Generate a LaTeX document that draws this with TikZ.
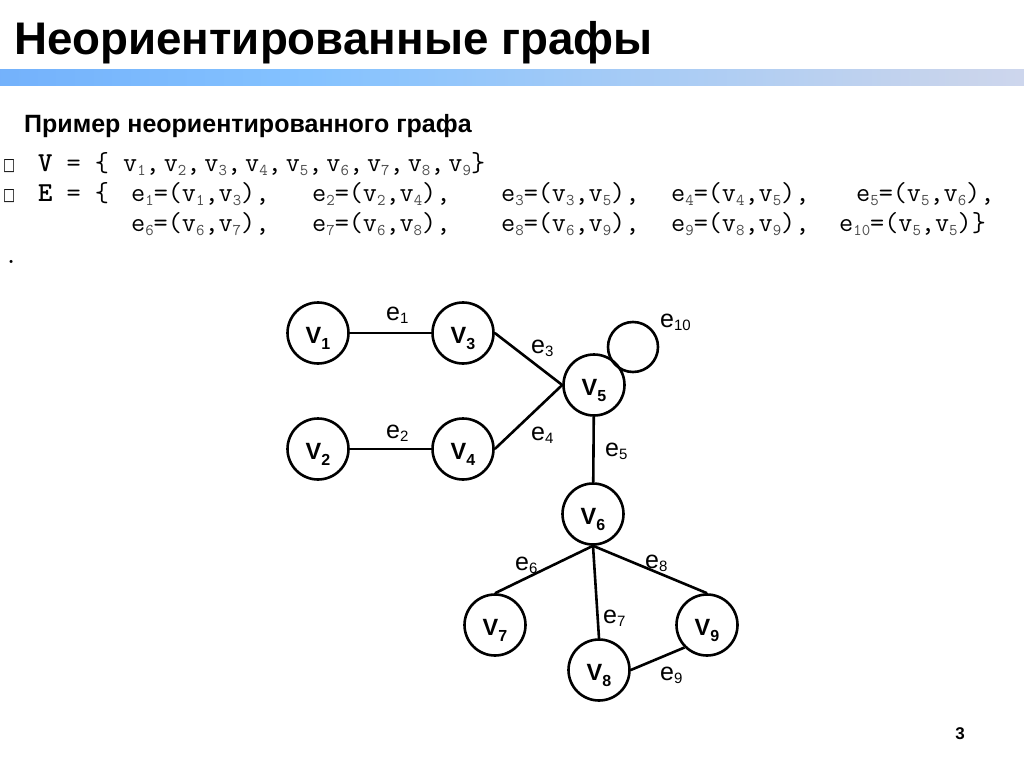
\documentclass[tikz,border=0pt]{standalone}
\usepackage{fontspec}
\setmainfont{Liberation Sans}
\newfontfamily\symfont{DejaVu Sans}
\definecolor{barA}{RGB}{88,150,245}
\definecolor{barB}{RGB}{132,194,255}
\definecolor{barC}{RGB}{200,212,236}
\definecolor{barD}{RGB}{250,232,248}
\pgfdeclarehorizontalshading{barshade}{100bp}{color(0bp)=(barA); color(40bp)=(barB); color(72bp)=(barC); color(100bp)=(barD)}
\newcommand{\msub}[1]{\raisebox{-4pt}{\fontsize{16.4}{16}\selectfont\color{black!70}#1}}
\newcommand{\vv}[1]{v\msub{#1}}
\newcommand{\vlab}[1]{\fontsize{23.5}{23.5}\selectfont\bfseries V\raisebox{-6pt}{\fontsize{16}{16}\selectfont #1}}
\newcommand{\elab}[1]{\fontsize{25}{25}\selectfont e\raisebox{-3pt}{\fontsize{15}{15}\selectfont #1}}
\begin{document}
\begin{tikzpicture}[x=1pt,y=-1pt,
  vert/.style={circle, draw, fill=white, line width=2.6pt, minimum size=61pt, inner sep=0pt, text height=20pt, text depth=0pt},
  edge/.style={line width=2.6pt},
  elabel/.style={anchor=base west, inner sep=0pt},
  mono/.style={anchor=base west, inner sep=0pt, font=\ttfamily\fontsize{27.4}{30}\selectfont}]
\useasboundingbox[fill=white] (0,0) rectangle (1024,767);
% title and bar
\node[anchor=base west, inner sep=0pt, font=\bfseries\fontsize{45.7}{54}\selectfont] (title) at (14,55) {Неориентированные графы};
\shade[shading=barshade] (0,70) rectangle (1024,86);
\node[anchor=base west, inner sep=0pt, font=\bfseries\fontsize{25}{30}\selectfont] (sub) at (24,133) {Пример неориентированного графа};
% sets
\node[anchor=base west, inner sep=0pt, font=\symfont\fontsize{17}{20}\selectfont] (b1) at (3,171) {\scalebox{0.75}[1]{□}};
\node[anchor=base west, inner sep=0pt, font=\symfont\fontsize{17}{20}\selectfont] (b2) at (3,201) {\scalebox{0.75}[1]{□}};
\node[mono] (l1) at (38,172) {\textbf{V} = \{ \vv{1},\kern4pt\vv{2},\kern4pt\vv{3},\kern4pt\vv{4},\kern4pt\vv{5},\kern4pt\vv{6},\kern4pt\vv{7},\kern4pt\vv{8},\kern4pt\vv{9}\}};
\node[mono] (l2) at (38,202) {\textbf{E} = \{};
\node[mono] (g1) at (131,202) {e\msub{1}=(\vv{1},\vv{3}),};
\node[mono] (g2) at (312,202) {e\msub{2}=(\vv{2},\vv{4}),};
\node[mono] (g3) at (501,202) {e\msub{3}=(\vv{3},\vv{5}),};
\node[mono] (g4) at (671,202) {e\msub{4}=(\vv{4},\vv{5}),};
\node[mono] (g5) at (856,202) {e\msub{5}=(\vv{5},\vv{6}),};
\node[mono] (g6) at (131,232) {e\msub{6}=(\vv{6},\vv{7}),};
\node[mono] (g7) at (312,232) {e\msub{7}=(\vv{6},\vv{8}),};
\node[mono] (g8) at (501,232) {e\msub{8}=(\vv{6},\vv{9}),};
\node[mono] (g9) at (671,232) {e\msub{9}=(\vv{8},\vv{9}),};
\node[mono] (g10) at (839,232) {e\msub{10}=(\vv{5},\vv{5})\}};
\node[mono] (dot) at (4,263) {.};
% graph
\node[vert] (v1) at (318,333) {\vlab{1}};
\node[vert] (v3) at (463,333) {\vlab{3}};
\node[vert] (v2) at (318,449) {\vlab{2}};
\node[vert] (v4) at (463,449) {\vlab{4}};
\node[vert] (v5) at (594,385) {\vlab{5}};
\node[vert] (v6) at (593,514) {\vlab{6}};
\node[vert] (v7) at (495,625) {\vlab{7}};
\node[vert] (v8) at (599,670) {\vlab{8}};
\node[vert] (v9) at (707,625) {\vlab{9}};
\draw[edge] (v1) -- (v3);
\draw[edge] (v2) -- (v4);
\draw[edge] (v3.east) -- (v5.west);
\draw[edge] (v4.east) -- (v5.west);
\draw[edge] (v5) -- (v6);
\draw[edge] (v6.south) -- (v7.north);
\draw[edge] (v6.south) -- (v8.north);
\draw[edge] (v6.south) -- (v9.north);
\draw[edge] (v8.east) -- (v9.south west);
\draw[edge] ([shift={(39,-38)}]v5.center) circle[radius=25];
% edge labels
\node[elabel] (e1) at (386,320) {\elab{1}};
\node[elabel] (e2) at (386,438) {\elab{2}};
\node[elabel] (e3) at (531,353) {\elab{3}};
\node[elabel] (e4) at (531,440) {\elab{4}};
\node[elabel] (e5) at (605,456) {\elab{5}};
\node[elabel] (e10) at (660,327) {\elab{10}};
\node[elabel] (e6) at (515,570) {\elab{6}};
\node[elabel] (e7) at (603,623) {\elab{7}};
\node[elabel] (e8) at (645,568) {\elab{8}};
\node[elabel] (e9) at (660,680) {\elab{9}};
% page number
\node[anchor=base, inner sep=0pt, font=\bfseries\fontsize{17}{20}\selectfont] (pg) at (960,739) {3};
\end{tikzpicture}
\end{document}
